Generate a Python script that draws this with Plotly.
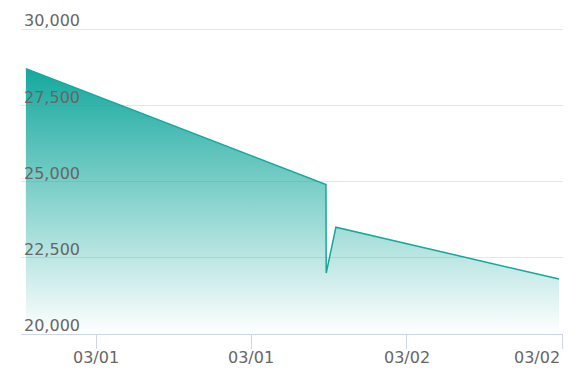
import plotly.graph_objects as go

times = ["2024-03-01 00:35", "2024-03-01 23:46", "2024-03-01 23:47", "2024-03-02 00:32", "2024-03-02 17:46"]
values = [28700, 24900, 22000, 23500, 21800]
y_ticks = [20000, 22500, 25000, 27500, 30000]
y_tick_text = ["20,000", "22,500", "25,000", "27,500", "30,000"]
x_ticks = ["2024-03-01 06:00", "2024-03-01 18:00", "2024-03-02 06:00", "2024-03-02 18:00"]
x_tick_text = ["03/01", "03/01", "03/02", "03/02"]

teal = "#14a89d"
label_color = "#666666"
fsize = 16

fig = go.Figure()
fig.add_trace(go.Scatter(
    x=times, y=values, mode="lines",
    line=dict(color=teal, width=1.5),
    fill="tozeroy",
    fillgradient=dict(type="vertical", start=20000, stop=28700,
                      colorscale=[[0, "rgba(20,168,157,0.0)"], [1, "rgba(20,168,157,1)"]]),
    hoverinfo="skip",
))

# x tick labels (the last, edge label is right-aligned to its tick)
for i, (tv, tt) in enumerate(zip(x_ticks, x_tick_text)):
    fig.add_annotation(
        x=tv, xref="x", y=0, yref="paper",
        text=tt, showarrow=False,
        xanchor="right" if i == len(x_ticks) - 1 else "center",
        yanchor="top", yshift=-12,
        font=dict(family="DejaVu Sans", size=fsize, color=label_color),
    )

fig.update_layout(
    width=582, height=390,
    margin=dict(l=21, r=19, t=4, b=56),
    paper_bgcolor="white", plot_bgcolor="white",
    showlegend=False,
    font=dict(family="DejaVu Sans", size=fsize, color=label_color),
)
fig.update_xaxes(
    type="date",
    range=["2024-03-01 00:12:22", "2024-03-02 18:04:38"],
    tickvals=x_ticks, ticktext=[""] * len(x_ticks),
    showgrid=False, zeroline=False,
    showline=True, linecolor="#ccd6eb", linewidth=1,
    ticks="outside", ticklen=14, tickcolor="#ccd6eb", tickwidth=1,
)
fig.update_yaxes(
    range=[20000, 30820],
    tickvals=y_ticks, ticktext=y_tick_text,
    ticklabelposition="inside top",
    ticklabeloverflow="allow",
    ticklabelshift=3,
    showgrid=True, gridcolor="#e6e6e6", gridwidth=1,
    zeroline=False, showline=False, ticks="",
    tickfont=dict(size=fsize, color=label_color),
)

fig.write_html("out.html")
